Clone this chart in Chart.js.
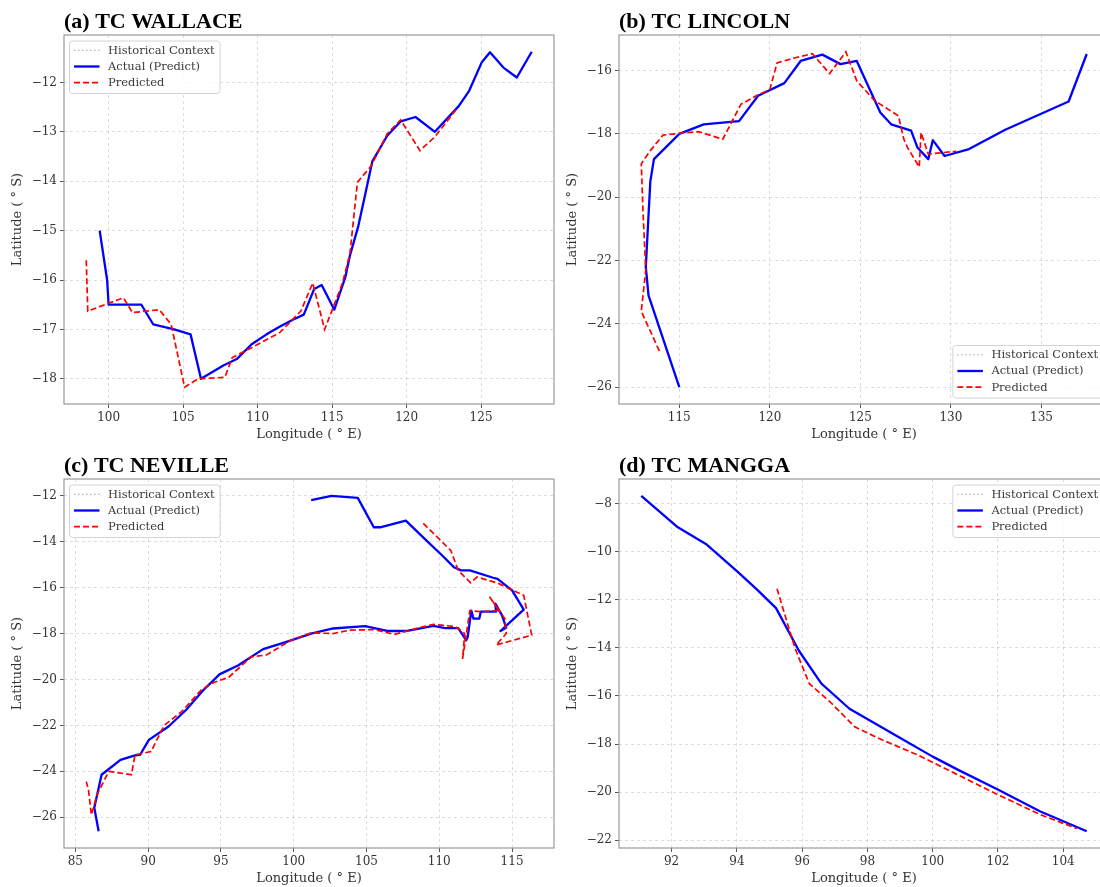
<!DOCTYPE html>
<html>
<head>
<meta charset="utf-8">
<script src="https://cdn.jsdelivr.net/npm/chart.js@4.4.1/dist/chart.umd.min.js"></script>
<style>
  html, body { margin: 0; padding: 0; background: #fff; overflow: hidden; }
  body { width: 1100px; height: 887px; position: relative; }
  canvas { position: absolute; }
</style>
</head>
<body>
<canvas id="panelA"></canvas>
<canvas id="panelB"></canvas>
<canvas id="panelC"></canvas>
<canvas id="panelD"></canvas>
<script>
// ---- (a) TC WALLACE ----
const wallaceActualLon = [99.4, 99.9, 100.0, 102.2, 103.0, 104.4, 105.5, 106.2, 107.7, 108.6, 109.6, 110.6, 111.5, 112.4, 113.1, 113.8, 114.3, 115.15, 115.9, 116.2, 116.75, 117.7, 118.7, 119.6, 120.6, 121.9, 123.5, 124.2, 125.05, 125.6, 126.5, 127.4, 128.4];
const wallaceActualLat = [-15.0, -16.0, -16.5, -16.5, -16.9, -17.0, -17.1, -18.0, -17.73, -17.6, -17.3, -17.1, -16.94, -16.8, -16.7, -16.18, -16.1, -16.6, -15.93, -15.5, -14.92, -13.6, -13.08, -12.79, -12.7, -13.0, -12.48, -12.17, -11.59, -11.39, -11.7, -11.9, -11.38];
const wallacePredLon = [98.5, 98.6, 100.0, 101.0, 101.6, 103.4, 104.2, 105.1, 106.0, 107.8, 108.3, 109.6, 111.5, 112.9, 113.7, 114.5, 115.7, 116.2, 116.7, 117.6, 118.7, 119.6, 120.9, 121.9, 123.3];
const wallacePredLat = [-15.6, -16.63, -16.47, -16.36, -16.66, -16.6, -16.9, -18.17, -18.0, -17.97, -17.57, -17.37, -17.06, -16.63, -16.06, -17.0, -16.06, -15.46, -14.02, -13.7, -13.04, -12.76, -13.38, -13.1, -12.56];
const wallaceLonTicks = [100, 105, 110, 115, 120, 125];
const wallaceLatTicks = [-12, -13, -14, -15, -16, -17, -18];

// ---- (b) TC LINCOLN ----
const lincolnActualLon = [115.0, 113.3, 113.15, 113.4, 113.6, 115.0, 116.35, 118.3, 119.35, 120.8, 121.7, 122.9, 123.9, 124.8, 126.1, 126.7, 127.8, 128.15, 128.75, 129.0, 129.65, 131.0, 133.0, 136.5, 137.5];
const lincolnActualLat = [-26.0, -23.1, -22.2, -19.5, -18.8, -18.0, -17.7, -17.6, -16.8, -16.4, -15.7, -15.5, -15.8, -15.7, -17.33, -17.7, -17.9, -18.43, -18.8, -18.2, -18.7, -18.48, -17.87, -16.98, -15.48];
const lincolnPredLon = [113.9, 112.9, 113.15, 113.0, 112.9, 113.4, 114.1, 115.1, 116.05, 117.4, 118.4, 119.25, 120.0, 120.4, 121.4, 122.35, 123.3, 124.2, 124.8, 125.8, 127.1, 127.4, 127.6, 128.25, 128.35, 128.75, 130.3];
const lincolnPredLat = [-24.86, -23.6, -22.3, -20.5, -18.95, -18.53, -18.04, -17.98, -17.93, -18.17, -17.07, -16.8, -16.6, -15.76, -15.6, -15.47, -16.1, -15.41, -16.33, -16.96, -17.43, -18.17, -18.43, -19.05, -17.96, -18.64, -18.55];
const lincolnLonTicks = [115, 120, 125, 130, 135];
const lincolnLatTicks = [-16, -18, -20, -22, -24, -26];

// ---- (c) TC NEVILLE ----
const nevilleActualLon = [101.2, 102.6, 104.4, 105.5, 106.0, 107.7, 109.0, 110.2, 111.0, 111.5, 112.1, 113.7, 114.0, 115.0, 115.8, 114.7, 114.2, 114.6, 114.3, 113.85, 113.9, 112.85, 112.75, 112.35, 112.2, 111.95, 111.85, 111.3, 110.4, 109.6, 107.7, 106.5, 104.9, 102.7, 101.2, 99.5, 97.9, 96.2, 94.9, 93.8, 92.6, 91.4, 90.05, 89.45, 89.1, 88.1, 86.8, 86.3, 86.6];
const nevilleActualLat = [-12.19, -12.0, -12.09, -13.37, -13.37, -13.08, -13.88, -14.6, -15.11, -15.25, -15.25, -15.57, -15.62, -16.12, -16.96, -17.6, -17.89, -17.75, -17.2, -16.7, -17.05, -17.05, -17.35, -17.35, -17.0, -18.15, -18.3, -17.76, -17.76, -17.67, -17.89, -17.89, -17.68, -17.78, -18.0, -18.36, -18.68, -19.38, -19.78, -20.46, -21.33, -22.05, -22.63, -23.28, -23.31, -23.5, -24.15, -25.59, -26.61];
const nevillePredLon = [108.9, 110.8, 111.3, 112.15, 112.6, 114.0, 115.05, 115.8, 116.35, 113.9, 114.6, 114.5, 113.45, 114.1, 112.9, 112.1, 111.6, 111.75, 111.1, 109.6, 108.6, 106.9, 105.55, 103.9, 102.7, 101.2, 99.8, 98.1, 97.1, 95.5, 94.5, 93.65, 92.3, 91.1, 90.2, 89.1, 88.85, 87.3, 86.5, 86.1, 85.9, 85.75];
const nevillePredLat = [-13.2, -14.39, -15.25, -15.79, -15.54, -15.8, -16.12, -16.34, -18.07, -18.5, -18.0, -17.35, -16.4, -17.0, -17.05, -17.0, -19.1, -18.0, -17.7, -17.6, -17.75, -18.04, -17.83, -17.85, -18.0, -17.97, -18.3, -18.94, -19.01, -19.92, -20.13, -20.46, -21.4, -22.0, -23.14, -23.28, -24.15, -24.0, -25.0, -25.9, -24.8, -24.45];
const nevilleLonTicks = [85, 90, 95, 100, 105, 110, 115];
const nevilleLatTicks = [-12, -14, -16, -18, -20, -22, -24, -26];

// ---- (d) TC MANGGA ----
const manggaActualLon = [91.07, 92.19, 93.05, 94.0, 94.61, 95.2, 95.9, 96.59, 97.45, 98.9, 100.0, 100.78, 102.01, 103.3, 104.72];
const manggaActualLat = [-7.68, -8.99, -9.68, -10.81, -11.57, -12.35, -14.12, -15.49, -16.53, -17.66, -18.52, -19.07, -19.9, -20.8, -21.62];
const manggaPredLon = [95.23, 95.57, 95.79, 96.22, 96.86, 97.61, 98.36, 99.54, 100.78, 102.01, 103.3, 104.42];
const manggaPredLat = [-11.54, -13.08, -14.05, -15.49, -16.25, -17.28, -17.77, -18.45, -19.28, -20.11, -20.93, -21.51];
const manggaLonTicks = [92, 94, 96, 98, 100, 102, 104];
const manggaLatTicks = [-8, -10, -12, -14, -16, -18, -20, -22];

const seriesNames = ['Historical Context', 'Actual (Predict)', 'Predicted'];

// layout of the axes boxes (px)
const AREA_W = 490, AREA_H = 369;
const Y_AXIS_W = 58, X_AXIS_H = 40, PAD_TOP = 30, PAD_RIGHT = 2;

function toPoints(lon, lat) {
  return lon.map((x, i) => ({ x: x, y: lat[i] }));
}

// matplotlib-like 5% margins around the data
function limits(arrs) {
  const all = [].concat(...arrs);
  const lo = Math.min(...all), hi = Math.max(...all);
  const m = (hi - lo) * 0.05;
  return [lo - m, hi + m];
}

function fmtTick(v) {
  return v < 0 ? '\u2212' + Math.abs(v) : String(v);
}

const frameAndTitle = {
  id: 'frameAndTitle',
  afterDraw(chart, args, opts) {
    const ctx = chart.ctx, a = chart.chartArea;
    ctx.save();
    ctx.strokeStyle = '#9a9a9a';
    ctx.lineWidth = 1.2;
    ctx.strokeRect(a.left, a.top, a.right - a.left, a.bottom - a.top);
    ctx.fillStyle = '#000';
    ctx.font = 'bold 22px "Liberation Serif"';
    ctx.textBaseline = 'alphabetic';
    ctx.textAlign = 'left';
    ctx.fillText(opts.text, a.left, a.top - 7);
    ctx.restore();
  }
};

const trackLegend = {
  id: 'trackLegend',
  afterDraw(chart, args, opts) {
    const ctx = chart.ctx, a = chart.chartArea;
    const ds = chart.data.datasets;
    ctx.save();
    ctx.font = '11.5px "DejaVu Serif"';
    let tw = 0;
    ds.forEach(d => { tw = Math.max(tw, ctx.measureText(d.label).width); });
    const w = tw + 44, h = 52.5;
    let x = a.left + 5.5, y = a.top + 6;
    if (opts.corner === 'se') { x = a.right - 5.5 - w; y = a.bottom - 6 - h; }
    if (opts.corner === 'ne') { x = a.right - 5.5 - w; }
    ctx.beginPath();
    ctx.roundRect(x, y, w, h, 3);
    ctx.fillStyle = 'rgba(255,255,255,0.8)';
    ctx.fill();
    ctx.strokeStyle = '#d4d4d4';
    ctx.lineWidth = 1;
    ctx.stroke();
    ds.forEach((d, i) => {
      const cy = y + 9.3 + i * 16.2;
      ctx.beginPath();
      ctx.setLineDash(d.borderDash || []);
      ctx.strokeStyle = d.borderColor;
      ctx.lineWidth = d.borderWidth;
      ctx.moveTo(x + 4.5, cy);
      ctx.lineTo(x + 30, cy);
      ctx.stroke();
      ctx.setLineDash([]);
      ctx.fillStyle = '#3a3a3a';
      ctx.textBaseline = 'middle';
      ctx.fillText(d.label, x + 38.5, cy + 0.5);
    });
    ctx.restore();
  }
};

function axis(ticks, label, position, lim, isY) {
  return {
    type: 'linear',
    position: position,
    min: lim[0],
    max: lim[1],
    afterBuildTicks: s => { s.ticks = ticks.map(v => ({ value: v })); },
    afterFit: s => { if (isY) s.width = Y_AXIS_W; else s.height = X_AXIS_H; },
    grid: { color: 'rgba(0,0,0,0.17)', lineWidth: 0.8, tickColor: '#555', tickLength: 4, tickWidth: 1, tickBorderDash: [] },
    border: { display: false, dash: [3, 3] },
    ticks: {
      color: '#333', padding: 3, autoSkip: false, maxRotation: 0,
      font: { family: 'DejaVu Serif', size: 12 },
      callback: v => fmtTick(v)
    },
    title: {
      display: true, text: label, color: '#333',
      font: { family: 'DejaVu Serif', size: 13 },
      padding: isY ? { top: 4, bottom: 0 } : { top: 0, bottom: 2 }
    }
  };
}

function drawPanel(id, title, left, top, actLon, actLat, predLon, predLat, lonTicks, latTicks, corner) {
  const cv = document.getElementById(id);
  cv.width = Y_AXIS_W + AREA_W + PAD_RIGHT;
  cv.height = PAD_TOP + AREA_H + X_AXIS_H;
  cv.style.left = (left - Y_AXIS_W) + 'px';
  cv.style.top = (top - PAD_TOP) + 'px';
  const xLim = limits([actLon, predLon]);
  const yLim = limits([actLat, predLat]);
  new Chart(cv.getContext('2d'), {
    type: 'scatter',
    data: {
      datasets: [
        { label: seriesNames[0], data: [], showLine: true, borderColor: '#b5b5b5', borderWidth: 1.2, borderDash: [1.5, 2.5], pointRadius: 0, order: 2 },
        { label: seriesNames[1], data: toPoints(actLon, actLat), showLine: true, borderColor: '#0000ff', borderWidth: 2.3, borderJoinStyle: 'round', pointRadius: 0, order: 1 },
        { label: seriesNames[2], data: toPoints(predLon, predLat), showLine: true, borderColor: '#ff0000', borderWidth: 1.7, borderDash: [6, 3], pointRadius: 0, order: 0 }
      ]
    },
    options: {
      responsive: false,
      animation: false,
      devicePixelRatio: 1,
      layout: { padding: { top: PAD_TOP, right: PAD_RIGHT, left: 0, bottom: 0 } },
      scales: {
        x: axis(lonTicks, 'Longitude ( \u00b0 E)', 'bottom', xLim, false),
        y: axis(latTicks, 'Latitude ( \u00b0 S)', 'left', yLim, true)
      },
      plugins: {
        legend: { display: false },
        tooltip: { enabled: false },
        frameAndTitle: { text: title },
        trackLegend: { corner: corner }
      }
    },
    plugins: [frameAndTitle, trackLegend]
  });
}

drawPanel('panelA', '(a) TC WALLACE', 64, 35, wallaceActualLon, wallaceActualLat, wallacePredLon, wallacePredLat, wallaceLonTicks, wallaceLatTicks, 'nw');
drawPanel('panelB', '(b) TC LINCOLN', 619, 35, lincolnActualLon, lincolnActualLat, lincolnPredLon, lincolnPredLat, lincolnLonTicks, lincolnLatTicks, 'se');
drawPanel('panelC', '(c) TC NEVILLE', 64, 479, nevilleActualLon, nevilleActualLat, nevillePredLon, nevillePredLat, nevilleLonTicks, nevilleLatTicks, 'nw');
drawPanel('panelD', '(d) TC MANGGA', 619, 479, manggaActualLon, manggaActualLat, manggaPredLon, manggaPredLat, manggaLonTicks, manggaLatTicks, 'ne');
</script>
</body>
</html>
